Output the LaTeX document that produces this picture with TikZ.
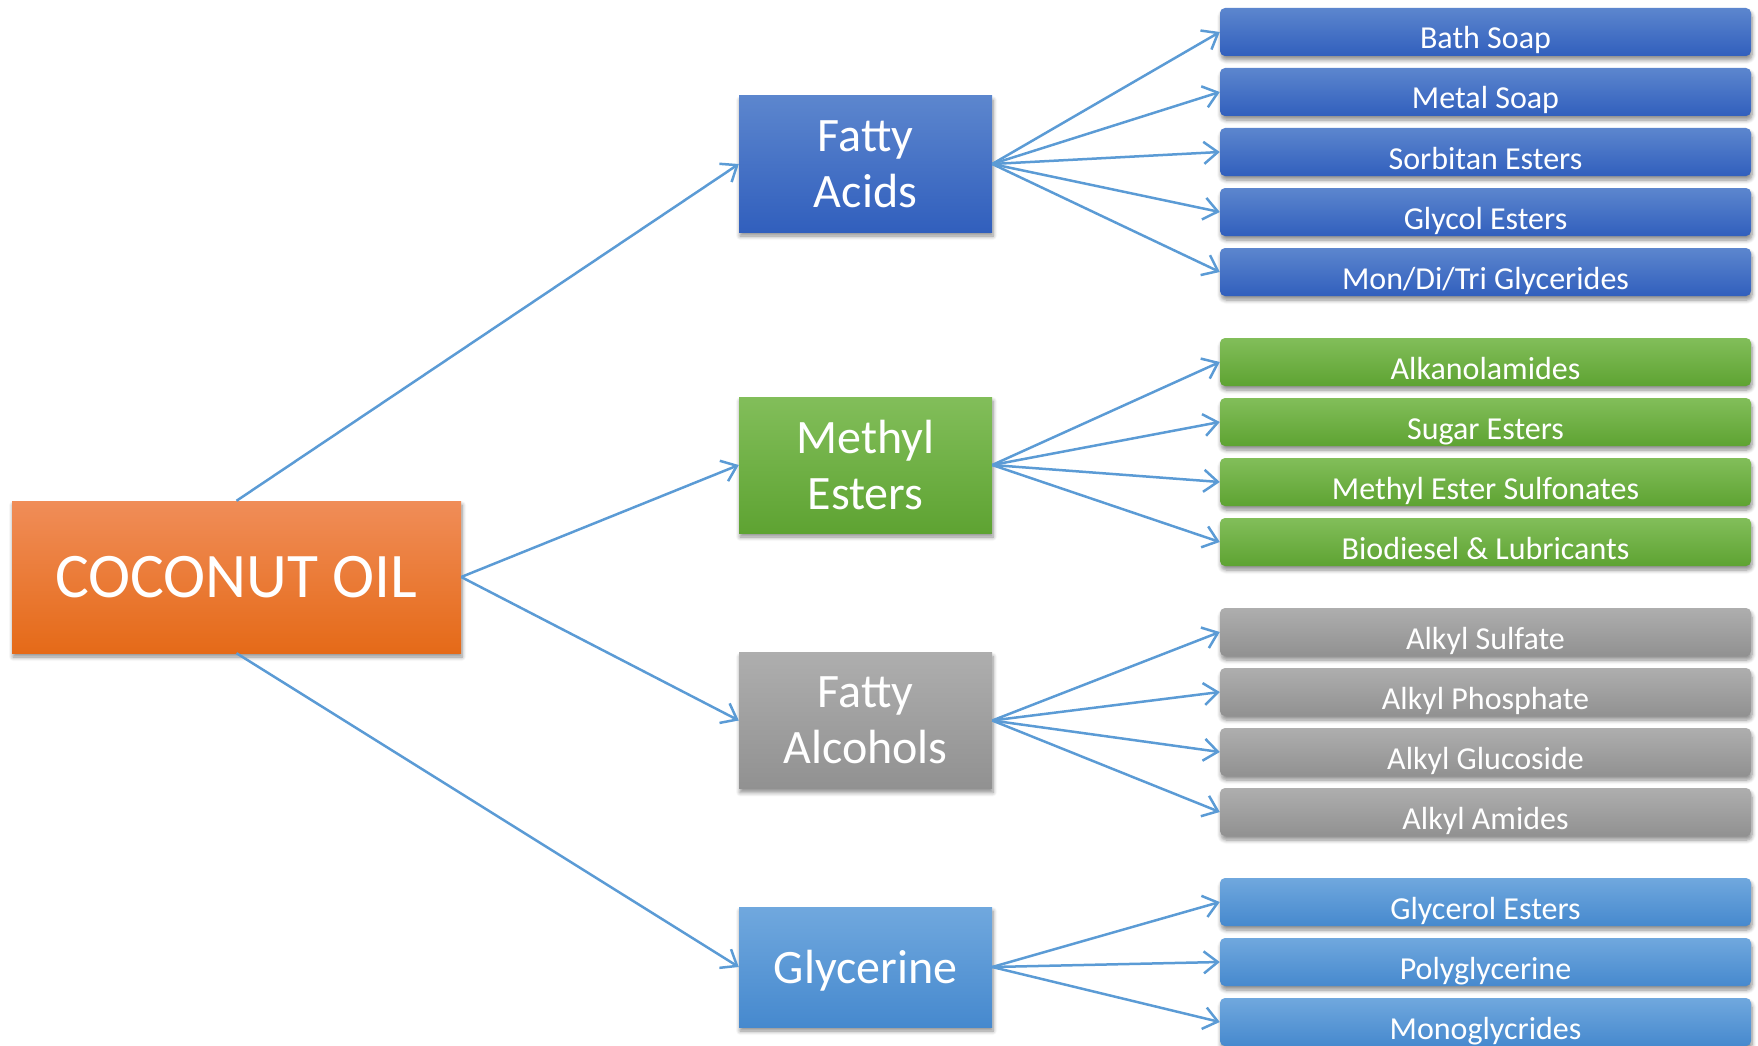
\documentclass[tikz,border=0pt]{standalone}
\usepackage{fontspec}
\setmainfont{Carlito}
\usetikzlibrary{arrows.meta,shadows.blur}
\definecolor{orT}{RGB}{240,141,88}
\definecolor{orB}{RGB}{229,106,24}
\definecolor{buT}{RGB}{92,134,206}
\definecolor{buB}{RGB}{49,95,189}
\definecolor{grT}{RGB}{130,190,90}
\definecolor{grB}{RGB}{94,163,50}
\definecolor{gyT}{RGB}{174,174,174}
\definecolor{gyB}{RGB}{145,145,145}
\definecolor{lbT}{RGB}{112,168,222}
\definecolor{lbB}{RGB}{70,137,206}
\definecolor{lineblue}{RGB}{91,155,213}
\tikzset{
  box/.style={inner sep=0pt, text=white,
    blur shadow={shadow xshift=1pt, shadow yshift=-4pt, shadow blur radius=4pt, shadow blur steps=6, shadow opacity=45}},
  coco/.style={box, top color=orT, bottom color=orB, minimum width=449pt, minimum height=152pt,
    font=\fontsize{63.5}{70}\selectfont},
  midbox/.style={box, align=center, minimum width=253pt, minimum height=136pt,
    font=\fontsize{48}{56}\selectfont},
  rbox/.style={box, rounded corners=5pt, minimum width=531pt, minimum height=48pt,
    text height=34pt, text depth=0pt, font=\fontsize{32}{38}\selectfont},
  blueF/.style={top color=buT, bottom color=buB},
  greenF/.style={top color=grT, bottom color=grB},
  grayF/.style={top color=gyT, bottom color=gyB},
  lblueF/.style={top color=lbT, bottom color=lbB},
  conn/.style={draw=lineblue, line width=2.5pt, -{Straight Barb[length=14pt,width=22pt]}}
}
\begin{document}
\begin{tikzpicture}[x=1pt,y=1pt]
\useasboundingbox (0,0) rectangle (1758,-1046);
% root
\node[coco] (oil) at (236.5,-577) {COCONUT OIL};
% middle
\node[midbox, blueF] (fa) at (865.5,-164) {Fatty\\Acids};
\node[midbox, greenF] (me) at (865.5,-465) {Methyl\\Esters};
\node[midbox, grayF] (fal) at (865.5,-720.5) {Fatty\\Alcohols};
\node[midbox, lblueF, minimum height=120pt, text depth=1pt] (gly) at (865.5,-967) {Glycerine};
% right column
\node[rbox, blueF] (r1) at (1485.5,-32) {Bath Soap};
\node[rbox, blueF] (r2) at (1485.5,-92) {Metal Soap};
\node[rbox, blueF] (r3) at (1485.5,-152) {Sorbitan Esters};
\node[rbox, blueF] (r4) at (1485.5,-212) {Glycol Esters};
\node[rbox, blueF] (r5) at (1485.5,-272) {Mon/Di/Tri Glycerides};
\node[rbox, greenF] (g1) at (1485.5,-362) {Alkanolamides};
\node[rbox, greenF] (g2) at (1485.5,-422) {Sugar Esters};
\node[rbox, greenF] (g3) at (1485.5,-482) {Methyl Ester Sulfonates};
\node[rbox, greenF] (g4) at (1485.5,-542) {Biodiesel \& Lubricants};
\node[rbox, grayF] (a1) at (1485.5,-632) {Alkyl Sulfate};
\node[rbox, grayF] (a2) at (1485.5,-692) {Alkyl Phosphate};
\node[rbox, grayF] (a3) at (1485.5,-752) {Alkyl Glucoside};
\node[rbox, grayF] (a4) at (1485.5,-812) {Alkyl Amides};
\node[rbox, lblueF] (l1) at (1485.5,-902) {Glycerol Esters};
\node[rbox, lblueF] (l2) at (1485.5,-962) {Polyglycerine};
\node[rbox, lblueF] (l3) at (1485.5,-1022) {Monoglycrides};
% connectors
\draw[conn] (oil.north) -- (fa.west);
\draw[conn] (oil.east) -- (me.west);
\draw[conn] (oil.east) -- (fal.west);
\draw[conn] (oil.south) -- (gly.west);
\foreach \t in {r1,r2,r3,r4,r5} \draw[conn] (fa.east) -- (\t.west);
\foreach \t in {g1,g2,g3,g4} \draw[conn] (me.east) -- (\t.west);
\foreach \t in {a1,a2,a3,a4} \draw[conn] (fal.east) -- (\t.west);
\foreach \t in {l1,l2,l3} \draw[conn] (gly.east) -- (\t.west);
\end{tikzpicture}
\end{document}
